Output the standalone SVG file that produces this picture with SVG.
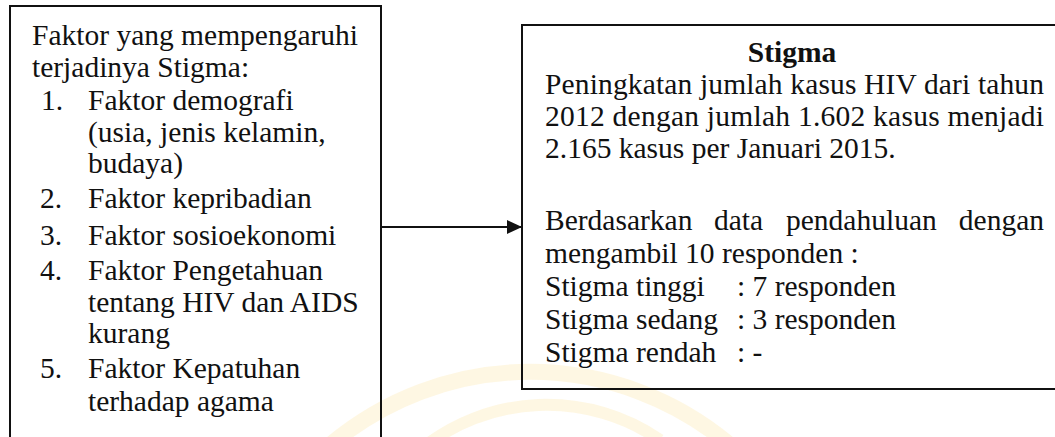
<svg xmlns="http://www.w3.org/2000/svg" width="1055" height="437" viewBox="0 0 1055 437">
  <style>
    .t { font-family: "Liberation Serif", "Times New Roman", serif; font-size: 29.5px; fill: #111; }
    .b { font-weight: bold; }
    .box { fill: none; stroke: #111; stroke-width: 2; }
    .conn { stroke: #111; stroke-width: 2; fill: none; }
    .wm { fill: none; stroke: #fbe7b0; opacity: 0.35; }
  </style>
  <defs>
    <marker id="arrow" markerWidth="15" markerHeight="14" refX="15" refY="7" orient="auto" markerUnits="userSpaceOnUse">
      <polygon points="0,0 15,7 0,14" fill="#111"/>
    </marker>
  </defs>
  <rect width="1055" height="437" fill="#fff"/>
  <g id="watermark">
    <path class="wm" stroke-width="16" d="M 330 445 A 310 310 0 0 1 730 445"/>
    <path class="wm" stroke-width="12" d="M 420 450 A 200 200 0 0 1 660 440"/>
  </g>
  <g id="factors">
    <path class="box" d="M 10 440 V 6 H 381 V 440"/>
    <text class="t" x="32" y="45">Faktor yang mempengaruhi</text>
    <text class="t" x="32" y="77">terjadinya Stigma:</text>
    <text class="t" x="41" y="110">1.</text><text class="t" x="88" y="110">Faktor demografi</text>
    <text class="t" x="88" y="142">(usia, jenis kelamin,</text>
    <text class="t" x="88" y="173">budaya)</text>
    <text class="t" x="40" y="208">2.</text><text class="t" x="88" y="208">Faktor kepribadian</text>
    <text class="t" x="40" y="245">3.</text><text class="t" x="88" y="245">Faktor sosioekonomi</text>
    <text class="t" x="40" y="280">4.</text><text class="t" x="88" y="280">Faktor Pengetahuan</text>
    <text class="t" x="88" y="312">tentang HIV dan AIDS</text>
    <text class="t" x="88" y="343">kurang</text>
    <text class="t" x="40" y="378">5.</text><text class="t" x="88" y="378">Faktor Kepatuhan</text>
    <text class="t" x="88" y="411">terhadap agama</text>
  </g>
  <g id="connectors">
    <line class="conn" x1="382" y1="227" x2="522" y2="227" marker-end="url(#arrow)"/>
  </g>
  <g id="stigma">
    <path class="box" d="M 1060 25 H 522 V 389 H 1060"/>
    <text class="t b" x="792" y="62" text-anchor="middle">Stigma</text>
    <text class="t" x="545" y="94" textLength="499" lengthAdjust="spacing">Peningkatan jumlah kasus HIV dari tahun</text>
    <text class="t" x="545" y="126" textLength="499" lengthAdjust="spacing">2012 dengan jumlah 1.602 kasus menjadi</text>
    <text class="t" x="545" y="158">2.165 kasus per Januari 2015.</text>
    <text class="t" y="230"><tspan x="545">Berdasarkan</tspan><tspan x="714">data</tspan><tspan x="786">pendahuluan</tspan><tspan x="1044" text-anchor="end">dengan</tspan></text>
    <text class="t" x="545" y="263">mengambil 10 responden :</text>
    <text class="t" y="296"><tspan x="545">Stigma tinggi</tspan><tspan x="737">: 7 responden</tspan></text>
    <text class="t" y="329"><tspan x="545">Stigma sedang</tspan><tspan x="737">: 3 responden</tspan></text>
    <text class="t" y="362"><tspan x="545">Stigma rendah</tspan><tspan x="737">: -</tspan></text>
  </g>
</svg>
